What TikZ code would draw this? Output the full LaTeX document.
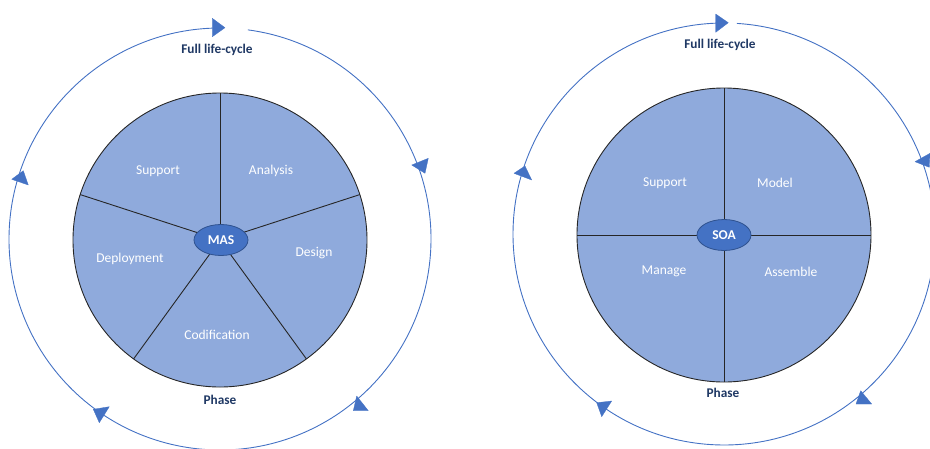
\documentclass[tikz,border=0pt]{standalone}
\usepackage{fontspec}
\setmainfont{Carlito}
\definecolor{piefill}{HTML}{8FAADC}
\definecolor{ellfill}{HTML}{4472C4}
\definecolor{ellline}{HTML}{2F528F}
\definecolor{ringc}{HTML}{4472C4}
\definecolor{navy}{HTML}{1F3864}
\tikzset{
  pie/.style={fill=piefill, draw=black!85, line width=0.9pt},
  spoke/.style={draw=black!85, line width=0.9pt},
  hub/.style={ellipse, fill=ellfill, draw=ellline, line width=0.8pt, minimum width=54pt, minimum height=31pt, inner sep=0pt, text=white, font=\fontsize{13.5}{15}\selectfont\bfseries},
  seclabel/.style={text=white, font=\fontsize{13.5}{16}\selectfont},
  titlelabel/.style={text=navy, font=\fontsize{13.3}{15}\selectfont\bfseries},
  ring/.style={draw=ringc, line width=0.9pt},
  tri/.style={fill=ringc, draw=ringc, line width=0.3pt, line join=round}
}
\usetikzlibrary{shapes.geometric}
\begin{document}
\begin{tikzpicture}[x=1pt,y=-1pt]
\useasboundingbox (0,0) rectangle (930,448);
\clip (0,0) rectangle (930,448);
% ===== Left diagram =====
\coordinate (LC) at (220,240);
\draw[ring] ([shift={(-82.4:211)}]220,239) arc[start angle=-82.4, end angle=268, radius=211];
\fill[pie] (LC) circle[radius=147];
\foreach \a in {90,18,-54,-126,162}{
  \draw[spoke] (LC) -- ++(-\a:147);
}
\node[hub] (mas) at (221,240) {MAS};
\node[seclabel] (lsup) at (158,171) {Support};
\node[seclabel] (lana) at (271,171) {Analysis};
\node[seclabel] (ldes) at (314,253) {Design};
\node[seclabel] (lcod) at (217,335) {Codification};
\node[seclabel] (ldep) at (130,259) {Deployment};
\node[titlelabel] (lfull) at (217,50) {Full life-cycle};
\node[titlelabel] (lphase) at (220,400) {Phase};
\fill[tri] (212.3,18.3) -- (212.3,36.7) -- (225,27.7) -- cycle;
\fill[tri] (411.7,165) -- (428.3,158.3) -- (425,173.3) -- cycle;
\fill[tri] (356.7,396) -- (368.3,410.7) -- (353.3,410.7) -- cycle;
\fill[tri] (93.3,409.3) -- (109.3,406.7) -- (99.3,422.7) -- cycle;
\fill[tri] (23.3,170.7) -- (11.7,179.3) -- (28.3,185) -- cycle;
% ===== Right diagram =====
\coordinate (RC) at (724,235);
\draw[ring] ([shift={(-86.5:211)}]724,234) arc[start angle=-86.5, end angle=268, radius=211];
\fill[pie] (RC) circle[radius=147];
\foreach \a in {0,90,180,270}{
  \draw[spoke] (RC) -- ++(\a:147);
}
\node[hub] (soa) at (724,235) {SOA};
\node[seclabel] (rsup) at (665,183) {Support};
\node[seclabel] (rmod) at (775,183) {Model};
\node[seclabel] (rman) at (664,271) {Manage};
\node[seclabel] (rass) at (791,272) {Assemble};
\node[titlelabel] (rfull) at (720,45) {Full life-cycle};
\node[titlelabel] (rphase) at (723,393) {Phase};
\fill[tri] (715.7,14) -- (715.7,32.3) -- (728.3,22.7) -- cycle;
\fill[tri] (915,161.7) -- (930,153.3) -- (929.3,167.3) -- cycle;
\fill[tri] (860.7,390.7) -- (871.7,404) -- (856,404) -- cycle;
\fill[tri] (596.7,402.7) -- (611.7,401) -- (601.7,416.7) -- cycle;
\fill[tri] (525,166) -- (514,173.3) -- (531.7,180) -- cycle;
\end{tikzpicture}
\end{document}
